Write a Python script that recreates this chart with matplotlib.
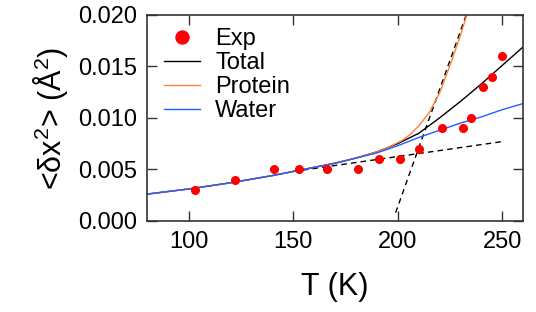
"""
Mean-square displacement vs temperature: experiment against simulated total / protein / water.
"""

import matplotlib

matplotlib.use("Agg")
import matplotlib.pyplot as plt

plt.rcParams["font.family"] = ["Liberation Sans", "DejaVu Sans"]
plt.rcParams["mathtext.fontset"] = "custom"
plt.rcParams["mathtext.rm"] = "Liberation Sans"
plt.rcParams["mathtext.it"] = "Liberation Sans:italic"

# experimental points
exp_T = [103, 122, 141, 153, 166, 181, 191, 201, 210, 221, 231, 235, 241, 245, 250]
exp_msd = [0.003, 0.004, 0.005, 0.005, 0.005, 0.005, 0.006, 0.006, 0.007,
           0.009, 0.009, 0.010, 0.013, 0.014, 0.016]

# model curves
water_T = [80, 100, 120, 140, 160, 170, 180, 190, 200, 210, 220, 230, 240, 250, 260]
water_msd = [0.0026, 0.0031, 0.0037, 0.0044, 0.0052, 0.0056, 0.0061, 0.0066,
             0.0073, 0.0081, 0.0088, 0.0095, 0.0101, 0.0108, 0.0114]

total_T = [80, 100, 120, 140, 160, 170, 180, 190, 200, 210, 220, 230, 240, 250, 260]
total_msd = [0.0026, 0.0031, 0.0037, 0.0044, 0.0052, 0.0056, 0.0061, 0.0067,
             0.0075, 0.0085, 0.0100, 0.0116, 0.0133, 0.0151, 0.0169]

protein_T = [80, 100, 120, 140, 160, 170, 180, 190, 196, 202, 206, 210, 215, 220, 225, 230, 233, 236]
protein_msd = [0.0026, 0.0031, 0.0037, 0.0044, 0.0052, 0.0056, 0.0061, 0.0067, 0.0072,
               0.0078, 0.0084, 0.0092, 0.0105, 0.0124, 0.0151, 0.0180, 0.0200, 0.0225]

# dashed guide lines
low_fit_T = [150, 250]
low_fit_msd = [0.0048, 0.0077]
high_fit_T = [199, 234]
high_fit_msd = [0.0008, 0.0207]


def main() -> None:
    fig = plt.figure(figsize=(5.36, 3.12), dpi=100)
    ax = fig.add_axes([0.274, 0.292, 0.702, 0.660])

    ax.plot(low_fit_T, low_fit_msd, color="black", linestyle=(0, (4, 3)), linewidth=1.0)
    ax.plot(high_fit_T, high_fit_msd, color="black", linestyle=(0, (4, 3)), linewidth=1.0)
    ax.plot(total_T, total_msd, color="black", linewidth=1.0, label="Total")
    ax.plot(protein_T, protein_msd, color="#FF7F3A", linewidth=1.0, label="Protein")
    ax.plot(water_T, water_msd, color="#1F5FFF", linewidth=1.0, label="Water")
    ax.plot(exp_T, exp_msd, "o", color="#FF0000", markersize=5.5, label="Exp", zorder=5)

    ax.set_xlim(80, 260)
    ax.set_ylim(0, 0.020)
    ax.set_xticks([100, 150, 200, 250])
    ax.set_yticks([0.000, 0.005, 0.010, 0.015, 0.020])
    ax.set_yticklabels(["0.000", "0.005", "0.010", "0.015", "0.020"])

    ax.tick_params(direction="in", length=7, width=1.0, top=True, right=True,
                   labelsize=17, pad=7, color="#333333")
    for spine in ax.spines.values():
        spine.set_linewidth(1.2)
        spine.set_color("#333333")

    ax.set_xlabel("T (K)", fontsize=22, labelpad=14)
    ax.set_ylabel("<δx$^2$> (Å$^2$)", fontsize=22, labelpad=6)

    handles, labels = ax.get_legend_handles_labels()
    order = [3, 0, 1, 2]
    ax.legend([handles[i] for i in order], [labels[i] for i in order],
              loc="upper left", frameon=False, fontsize=17, markerscale=1.7,
              handlelength=1.5, handletextpad=0.65, labelspacing=0.09,
              borderaxespad=0.15, bbox_to_anchor=(0.012, 1.0))

    fig.savefig("out.png", dpi=100)
    plt.close(fig)


if __name__ == "__main__":
    main()
